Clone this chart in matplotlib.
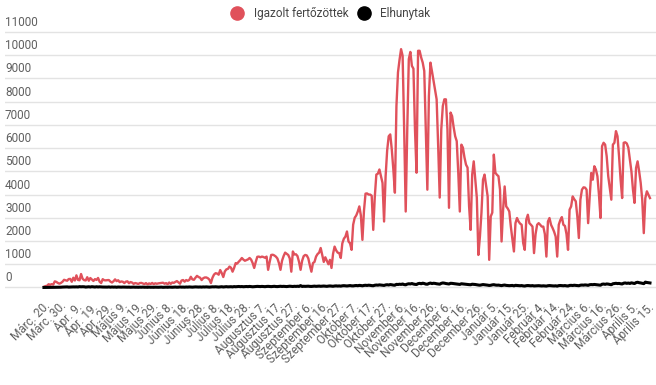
import matplotlib
matplotlib.use('Agg')
import matplotlib.pyplot as plt
import matplotlib.transforms as mtransforms
from matplotlib.lines import Line2D

plt.rcParams['font.family'] = ['Roboto', 'DejaVu Sans']

# napi adatok, Márc. 20. - Április 17.
igazolt = [
    30, 60, 70, 140, 115, 144, 123, 263, 240, 194,
    164, 196, 247, 330, 308, 290, 363, 369, 245, 420,
    300, 523, 325, 310, 580, 375, 316, 303, 442, 290,
    406, 344, 280, 360, 325, 410, 248, 190, 357, 312,
    306, 316, 320, 252, 213, 268, 350, 273, 312, 229,
    259, 246, 190, 251, 264, 183, 234, 211, 155, 191,
    175, 150, 190, 197, 172, 146, 189, 132, 175, 150,
    196, 143, 181, 160, 177, 185, 196, 205, 163, 188,
    139, 214, 156, 215, 197, 240, 275, 222, 163, 300,
    320, 250, 320, 289, 325, 460, 350, 330, 420, 500,
    450, 420, 320, 398, 430, 432, 400, 340, 190, 420,
    555, 614, 600, 550, 750, 620, 450, 690, 780, 800,
    900, 850, 680, 840, 1050, 1030, 1110, 1180, 1270, 1200,
    1150, 1180, 1210, 1270, 1200, 1050, 840, 1100, 1320, 1330,
    1300, 1330, 1310, 1280, 1330, 760, 1100, 1400, 1410, 1380,
    1330, 1250, 1050, 760, 1150, 1350, 1500, 1450, 1400, 1250,
    680, 1550, 1420, 1430, 1350, 1100, 760, 1150, 1350, 1400,
    1380, 1250, 950, 680, 1050, 1100, 1330, 1440, 1500, 1700,
    1400, 1100, 1300, 1150, 1000, 1190, 840, 1450, 1760, 1600,
    1500, 1480, 1270, 1900, 2100, 2190, 2410, 1980, 1900, 1620,
    2700, 3000, 3100, 3270, 3490, 3100, 2050, 3300, 4040, 4050,
    4000, 4000, 3950, 2480, 3900, 4860, 4900, 5080, 4790, 4500,
    2840, 4790, 5900, 6510, 6590, 5940, 5080, 4080, 7810, 9260,
    9800, 10260, 9970, 6800, 3270, 6800, 9830, 10140, 9540, 9420,
    6800, 4940, 10190, 10190, 9900, 9680, 9320, 6800, 4210, 8240,
    9680, 9300, 8890, 8500, 8100, 6080, 3870, 6800, 7810, 8100,
    8100, 6800, 3430, 7530, 7380, 6900, 6510, 6300, 4940, 3270,
    6150, 6020, 5600, 5290, 5160, 3490, 2480, 4860, 5430, 4640,
    3870, 1400, 2190, 3220, 4640, 4860, 4400, 3920, 1190, 3060,
    3220, 5720, 4940, 4850, 4790, 4210, 1980, 3350, 4350, 3490,
    3400, 3270, 2620, 2100, 1550, 2770, 2990, 2840, 2750, 2700,
    1910, 1620, 2920, 3130, 2770, 2700, 2620, 1480, 2300, 2700,
    2770, 2700, 2620, 2620, 2300, 1330, 2840, 2990, 2700, 2560,
    2400, 2190, 1330, 2700, 2900, 3030, 2700, 2650, 2300, 1620,
    3350, 3490, 3920, 3800, 3710, 3060, 2130, 3780, 4210, 4310,
    4300, 4210, 2770, 3900, 4930, 4640, 5220, 5080, 4790, 4000,
    2990, 6080, 6230, 6150, 5650, 4790, 4300, 3780, 6150, 6230,
    6730, 6510, 5650, 4640, 3850, 6230, 6250, 6200, 6020, 5510,
    5000, 4210, 3640, 5150, 5430, 5000, 4500, 3780, 2340, 3850,
    4140, 4000, 3850,
]

elhunyt = [
    1, 2, 2, 3, 5, 4, 6, 9, 7, 13,
    8, 12, 18, 19, 21, 25, 16, 21, 22, 25,
    23, 26, 21, 35, 28, 32, 30, 17, 25, 30,
    20, 33, 24, 19, 30, 21, 28, 22, 19, 20,
    17, 16, 23, 13, 21, 15, 19, 11, 20, 15,
    14, 18, 16, 11, 13, 15, 10, 12, 16, 11,
    13, 9, 14, 11, 16, 10, 12, 8, 15, 9,
    11, 8, 13, 10, 9, 12, 15, 7, 11, 14,
    9, 16, 12, 10, 13, 18, 11, 14, 22, 15,
    17, 13, 20, 16, 23, 18, 14, 19, 25, 21,
    18, 22, 16, 24, 20, 26, 19, 15, 23, 28,
    25, 30, 24, 18, 27, 32, 21, 28, 35, 26,
    30, 33, 25, 38, 31, 36, 43, 35, 40, 32,
    38, 42, 36, 45, 39, 30, 34, 41, 47, 43,
    39, 46, 40, 35, 44, 48, 42, 37, 45, 50,
    41, 38, 46, 52, 44, 49, 43, 39, 47, 55,
    48, 42, 51, 46, 53, 45, 80, 44, 52, 48,
    50, 56, 47, 44, 53, 58, 49, 55, 60, 51,
    57, 62, 54, 49, 60, 66, 58, 52, 64, 69,
    61, 67, 58, 72, 78, 70, 65, 75, 82, 71,
    68, 79, 85, 76, 90, 84, 72, 88, 95, 87,
    98, 92, 80, 75, 96, 105, 99, 112, 104, 93,
    88, 110, 118, 107, 125, 116, 102, 98, 135, 128,
    140, 132, 150, 124, 115, 145, 160, 152, 170, 148,
    135, 128, 165, 178, 160, 185, 170, 145, 140, 172,
    190, 168, 182, 175, 160, 150, 142, 178, 195, 186,
    170, 162, 150, 180, 176, 165, 158, 148, 140, 132,
    160, 152, 145, 138, 130, 122, 118, 140, 135, 128,
    115, 105, 98, 110, 125, 118, 108, 100, 88, 95,
    112, 120, 105, 98, 102, 92, 80, 96, 104, 90,
    85, 78, 82, 88, 70, 92, 86, 80, 75, 82,
    68, 62, 78, 84, 76, 72, 80, 66, 70, 74,
    78, 70, 65, 72, 68, 60, 76, 82, 74, 70,
    66, 72, 58, 80, 85, 78, 74, 82, 70, 64,
    88, 92, 85, 96, 90, 82, 76, 98, 105, 100,
    110, 104, 92, 118, 125, 120, 130, 122, 115, 105,
    98, 140, 148, 135, 152, 145, 130, 118, 160, 172,
    180, 168, 175, 160, 150, 185, 195, 178, 190, 172,
    200, 185, 170, 210, 225, 205, 195, 180, 165, 230,
    215, 205, 195,
]

# minden 10. naphoz tartozó felirat
datum_cimkek = [
    'Márc. 20.', 'Márc. 30.', 'Ápr. 9.', 'Ápr. 19.', 'Ápr. 29.',
    'Május 9.', 'Május 19.', 'Május 29.', 'Június 8.', 'Június 18.',
    'Június 28.', 'Július 8.', 'Július 18.', 'Július 28.', 'Augusztus 7.',
    'Augusztus 17.', 'Augusztus 27.', 'Szeptember 6.', 'Szeptember 16.', 'Szeptember 27.',
    'Október 7.', 'Október 17.', 'Október 27.', 'November 6.', 'November 16.',
    'November 26.', 'December 6.', 'December 16.', 'December 26.', 'Január 5.',
    'Január 15.', 'Január 25.', 'Február 4.', 'Február 14.', 'Február 24.',
    'Március 6.', 'Március 16.', 'Március 26.', 'Április 5.', 'Április 15.',
]
y_ertekek = list(range(0, 11001, 1000))

piros = '#e0515b'
szurke = '#606060'

fig = plt.figure(figsize=(6.56, 3.85), dpi=100)
ax = fig.add_axes([5 / 656, 1 - 289.8 / 385, 651 / 656, 264.8 / 385])

napok = list(range(len(igazolt)))
ax.plot(napok, igazolt, color=piros, linewidth=1.7, zorder=3)
ax.plot(napok, elhunyt, color='black', linewidth=2.2, zorder=4)

ax.set_xlim(-25.2, 395.9)
ax.set_ylim(-100, 11300)

for s in ax.spines.values():
    s.set_visible(False)

ax.set_yticks(y_ertekek)
ax.set_yticklabels([])
ax.tick_params(axis='y', length=0)
ax.grid(axis='y', color='#e3e3e3', linewidth=1)
ax.set_axisbelow(True)

trans = mtransforms.blended_transform_factory(ax.transAxes, ax.transData)
off = mtransforms.offset_copy(trans, fig=fig, x=0, y=3, units='dots')
for v in y_ertekek:
    ax.text(0, v, str(v), transform=off, ha='left', va='bottom',
            fontsize=8.5, color=szurke)

ax.set_xticks(list(range(0, 10 * len(datum_cimkek), 10)))
ax.set_xticklabels(datum_cimkek, rotation=45, ha='right',
                   rotation_mode='anchor', fontsize=8.5, color=szurke)
ax.tick_params(axis='x', length=0, pad=7)

kezelok = [
    Line2D([], [], marker='o', linestyle='', color=piros, markersize=9.5),
    Line2D([], [], marker='o', linestyle='', color='black', markersize=9.5),
]
fig.legend(kezelok, ['Igazolt fertőzöttek', 'Elhunytak'], loc='upper center',
           bbox_to_anchor=(0.5, 1.01), ncol=2, frameon=False, fontsize=8.5,
           handletextpad=0.4, columnspacing=0.3, labelcolor='#444444')

fig.savefig('out.png', dpi=100)
